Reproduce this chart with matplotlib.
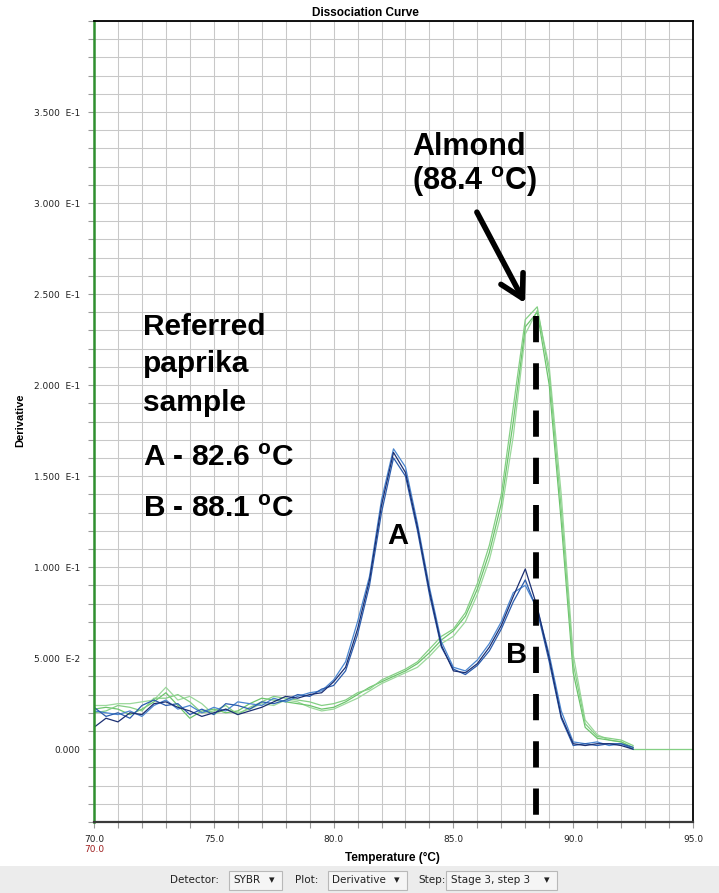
import numpy as np
import matplotlib
matplotlib.use("Agg")
import matplotlib.pyplot as plt
from matplotlib.patches import Rectangle
from matplotlib.ticker import MultipleLocator, FixedLocator, FixedFormatter

plt.rcParams['font.family'] = ['Liberation Sans', 'DejaVu Sans']
plt.rcParams['mathtext.fontset'] = 'custom'
plt.rcParams['mathtext.rm'] = 'Liberation Sans'
plt.rcParams['mathtext.bf'] = 'Liberation Sans:bold'

# temperature grid of the melt data (deg C)
temps = np.arange(70.0, 92.51, 0.5)

# referred paprika sample (blue wells)
blue_1 = [0.012, 0.017, 0.015, 0.020, 0.019, 0.025, 0.026, 0.023, 0.021, 0.018,
          0.020, 0.022, 0.019, 0.021, 0.023, 0.026, 0.029, 0.028, 0.030, 0.031,
          0.037, 0.045, 0.066, 0.093, 0.134, 0.163, 0.152, 0.122, 0.087, 0.057,
          0.043, 0.042, 0.047, 0.056, 0.068, 0.084, 0.099, 0.078, 0.050, 0.018,
          0.003, 0.002, 0.003, 0.003, 0.002, 0.000]
blue_2 = [0.023, 0.018, 0.020, 0.017, 0.024, 0.027, 0.024, 0.025, 0.019, 0.022,
          0.019, 0.025, 0.024, 0.022, 0.026, 0.025, 0.027, 0.030, 0.029, 0.033,
          0.035, 0.043, 0.063, 0.090, 0.130, 0.160, 0.150, 0.120, 0.085, 0.056,
          0.044, 0.041, 0.046, 0.054, 0.066, 0.081, 0.093, 0.076, 0.048, 0.017,
          0.002, 0.003, 0.002, 0.003, 0.003, 0.001]
blue_3 = [0.021, 0.020, 0.019, 0.021, 0.018, 0.024, 0.027, 0.022, 0.024, 0.020,
          0.023, 0.021, 0.026, 0.025, 0.024, 0.028, 0.026, 0.029, 0.031, 0.032,
          0.038, 0.048, 0.070, 0.095, 0.137, 0.165, 0.155, 0.124, 0.089, 0.059,
          0.045, 0.043, 0.049, 0.058, 0.070, 0.086, 0.090, 0.077, 0.052, 0.021,
          0.004, 0.003, 0.004, 0.002, 0.003, 0.000]

# almond reference (green wells)
green_1 = [0.022, 0.023, 0.022, 0.019, 0.022, 0.026, 0.031, 0.024, 0.017, 0.021,
           0.022, 0.020, 0.021, 0.025, 0.028, 0.027, 0.026, 0.025, 0.024, 0.022,
           0.023, 0.026, 0.030, 0.034, 0.037, 0.040, 0.043, 0.047, 0.053, 0.060,
           0.065, 0.073, 0.088, 0.108, 0.135, 0.180, 0.232, 0.240, 0.200, 0.125,
           0.042, 0.012, 0.006, 0.005, 0.004, 0.001]
green_2 = [0.020, 0.021, 0.024, 0.023, 0.021, 0.028, 0.028, 0.030, 0.026, 0.020,
           0.021, 0.024, 0.019, 0.023, 0.026, 0.029, 0.028, 0.027, 0.026, 0.024,
           0.025, 0.027, 0.031, 0.033, 0.038, 0.041, 0.044, 0.048, 0.055, 0.062,
           0.066, 0.075, 0.091, 0.112, 0.140, 0.188, 0.236, 0.243, 0.206, 0.132,
           0.047, 0.014, 0.007, 0.006, 0.005, 0.002]
green_3 = [0.024, 0.024, 0.025, 0.025, 0.026, 0.027, 0.034, 0.027, 0.029, 0.025,
           0.019, 0.022, 0.020, 0.022, 0.025, 0.024, 0.027, 0.026, 0.023, 0.021,
           0.022, 0.025, 0.028, 0.032, 0.036, 0.039, 0.042, 0.045, 0.051, 0.058,
           0.062, 0.070, 0.085, 0.104, 0.130, 0.172, 0.228, 0.241, 0.210, 0.140,
           0.052, 0.016, 0.008, 0.005, 0.004, 0.000]
tail_temps = [92.5, 95.0]
tail_vals = [0.0, 0.0]

ytick_vals = [0.0, 0.05, 0.10, 0.15, 0.20, 0.25, 0.30, 0.35]
ytick_labels = ['0.000', '5.000  E-2', '1.000  E-1', '1.500  E-1',
                '2.000  E-1', '2.500  E-1', '3.000  E-1', '3.500  E-1']
xtick_vals = [70, 75, 80, 85, 90, 95]
xtick_labels = ['70.0', '75.0', '80.0', '85.0', '90.0', '95.0']

almond_tm = 88.45
almond_top = 0.238

fig = plt.figure(figsize=(7.19, 8.93), dpi=100)
fig.patch.set_facecolor('white')
ax = fig.add_axes([94 / 719, 71 / 893, 599 / 719, 801 / 893])

ax.set_xlim(70, 95)
ax.set_ylim(-0.04, 0.40)

# grid every 1 deg and every 0.01
ax.xaxis.set_major_locator(FixedLocator(xtick_vals))
ax.xaxis.set_major_formatter(FixedFormatter(xtick_labels))
ax.xaxis.set_minor_locator(MultipleLocator(1))
ax.yaxis.set_major_locator(FixedLocator(ytick_vals))
ax.yaxis.set_major_formatter(FixedFormatter(ytick_labels))
ax.yaxis.set_minor_locator(MultipleLocator(0.01))
ax.grid(which='both', color='#c8c8c8', lw=0.75)
ax.set_axisbelow(True)
ax.tick_params(which='both', direction='out', length=4, color='#999999',
               labelsize=6.5, labelcolor='#222222', width=0.8)
ax.tick_params(axis='y', pad=6)
ax.tick_params(axis='x', pad=5)
for lbl in ax.get_xticklabels() + ax.get_yticklabels():
    lbl.set_family('DejaVu Sans')

ax.spines['left'].set_color('#2f8f2f')
ax.spines['left'].set_linewidth(1.8)
ax.spines['top'].set_color('black')
ax.spines['top'].set_linewidth(1.3)
ax.spines['right'].set_color('black')
ax.spines['right'].set_linewidth(1.3)
ax.spines['bottom'].set_color('#3a3a3a')
ax.spines['bottom'].set_linewidth(1.6)

ax.plot(temps, green_3, color='#9bd89b', lw=0.9)
ax.plot(temps, green_1, color='#6cc46c', lw=0.9)
ax.plot(temps, green_2, color='#84cf84', lw=0.9)
ax.plot(tail_temps, tail_vals, color='#84cf84', lw=0.9)
ax.plot(temps, blue_3, color='#4a86d0', lw=0.9)
ax.plot(temps, blue_2, color='#2a5cad', lw=0.9)
ax.plot(temps, blue_1, color='#1b2f72', lw=0.9)

# almond Tm marker
ax.plot([almond_tm, almond_tm], [almond_top, -0.04], color='black', lw=4.2,
        dashes=(4.5, 3.6), solid_capstyle='butt', dash_capstyle='butt', clip_on=False)
ax.annotate('', xy=(87.99, 0.245), xytext=(85.98, 0.295),
            arrowprops=dict(arrowstyle='->, head_length=0.8, head_width=0.45',
                            lw=4, color='black', shrinkA=0, shrinkB=0,
                            mutation_scale=20))

big = dict(fontsize=22, fontweight='bold', color='black', va='baseline', ha='left')
ax.text(83.27, 0.3264, 'Almond', **big)
ax.text(83.27, 0.3070, r'(88.4 $\mathbf{^{o}}$C)', **big)

side = dict(fontsize=21.5, fontweight='bold', color='black', va='baseline', ha='left')
ax.text(72.05, 0.2275, 'Referred', **side)
ax.text(72.05, 0.2070, 'paprika', **side)
ax.text(72.05, 0.1860, 'sample', **side)
ax.text(72.05, 0.1555, r'A - 82.6 $\mathbf{^{o}}$C', **side)
ax.text(72.05, 0.1275, r'B - 88.1 $\mathbf{^{o}}$C', **side)

ax.text(82.69, 0.117, 'A', fontsize=21, fontweight='bold', ha='center', va='center')
ax.text(87.65, 0.052, 'B', fontsize=21, fontweight='bold', ha='center', va='center')

fig.text(365 / 719, 1 - 13 / 893, 'Dissociation Curve', fontsize=8.5,
         fontweight='bold', ha='center', va='center')
fig.text(20 / 719, 1 - 420 / 893, 'Derivative', fontsize=8, fontweight='bold',
         rotation=90, ha='center', va='center')
fig.text(392 / 719, 1 - 858 / 893, 'Temperature (\u00b0C)', fontsize=8.5,
         fontweight='bold', ha='center', va='center')
fig.text(94 / 719, 1 - 849 / 893, '70.0', fontsize=6.5, color='#a02020',
         family='DejaVu Sans', ha='center', va='center')

# toolbar strip at the bottom
fig.patches.append(Rectangle((0, 0), 1, 27 / 893, transform=fig.transFigure,
                             facecolor='#ececec', edgecolor='none', zorder=0))
ty = 1 - 880 / 893
for x0, x1 in [(229, 282), (328, 407), (446, 557)]:
    fig.patches.append(Rectangle((x0 / 719, 1 - 890 / 893), (x1 - x0) / 719, 19 / 893,
                                 transform=fig.transFigure, facecolor='#f5f5f5',
                                 edgecolor='#b8b8b8', lw=0.8, zorder=1))
tb = dict(fontsize=7.5, family='DejaVu Sans', color='#222222', va='center', ha='left')
fig.text(170 / 719, ty, 'Detector:', **tb)
fig.text(233 / 719, ty, 'SYBR', **tb)
fig.text(295 / 719, ty, 'Plot:', **tb)
fig.text(332 / 719, ty, 'Derivative', **tb)
fig.text(418 / 719, ty, 'Step:', **tb)
fig.text(451 / 719, ty, 'Stage 3, step 3', **tb)
for xa in [272, 397, 547]:
    fig.text(xa / 719, ty, '\u25be', fontsize=8, family='DejaVu Sans',
             color='#222222', va='center', ha='center')

fig.savefig('out.png', dpi=100)
